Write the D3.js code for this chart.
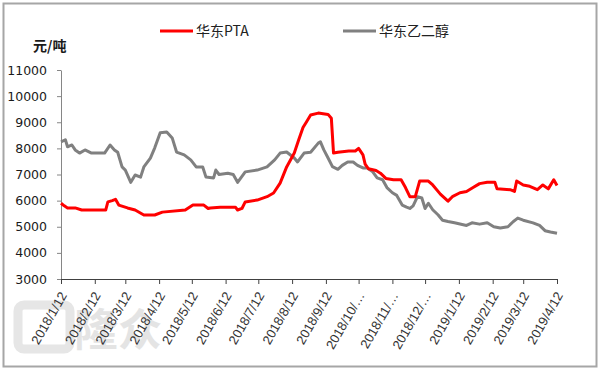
<!DOCTYPE html>
<html>
<head>
  <meta charset="utf-8">
  <title>华东PTA 与 华东乙二醇 价格</title>
  <script src="https://d3js.org/d3.v7.min.js"></script>
  <style>
    body { margin: 0; background: #fff; }
    svg { display: block; }
  </style>
</head>
<body>
<svg class="chart"></svg>
<script>

// series names and the tick labels on the x axis
const seriesNames = ["华东PTA", "华东乙二醇"];
const tickLabels = ["2018/1/12", "2018/2/12", "2018/3/12", "2018/4/12", "2018/5/12", "2018/6/12",
  "2018/7/12", "2018/8/12", "2018/9/12", "2018/10/…", "2018/11/…", "2018/12/…",
  "2019/1/12", "2019/2/12", "2019/3/12", "2019/4/12"];
const tickDates = ["2018-01-12", "2018-02-12", "2018-03-12", "2018-04-12", "2018-05-12", "2018-06-12",
  "2018-07-12", "2018-08-12", "2018-09-12", "2018-10-12", "2018-11-12", "2018-12-12",
  "2019-01-12", "2019-02-12", "2019-03-12", "2019-04-12"];
const yTicks = [3000, 4000, 5000, 6000, 7000, 8000, 9000, 10000, 11000];

// 华东PTA (元/吨)
const ptaDates = ["2018-01-12", "2018-01-15", "2018-01-18", "2018-01-25", "2018-01-31", "2018-02-22",
  "2018-02-24", "2018-02-28", "2018-03-03", "2018-03-06", "2018-03-14", "2018-03-21", "2018-03-29",
  "2018-04-08", "2018-04-15", "2018-05-06", "2018-05-13", "2018-05-23", "2018-05-27", "2018-05-29",
  "2018-06-07", "2018-06-21", "2018-06-23", "2018-06-27", "2018-06-30", "2018-07-11", "2018-07-20",
  "2018-07-26", "2018-08-01", "2018-08-07", "2018-08-14", "2018-08-18", "2018-08-22", "2018-08-25",
  "2018-08-29", "2018-09-05", "2018-09-14", "2018-09-17", "2018-09-19", "2018-09-23", "2018-10-03",
  "2018-10-09", "2018-10-12", "2018-10-16", "2018-10-18", "2018-10-21", "2018-10-28", "2018-11-01",
  "2018-11-06", "2018-11-13", "2018-11-20", "2018-11-24", "2018-11-28", "2018-12-03", "2018-12-07",
  "2018-12-15", "2018-12-19", "2018-12-26", "2019-01-02", "2019-01-06", "2019-01-13", "2019-01-19",
  "2019-01-25", "2019-01-31", "2019-02-07", "2019-02-14", "2019-02-16", "2019-02-28", "2019-03-04",
  "2019-03-06", "2019-03-12", "2019-03-18", "2019-03-25", "2019-03-30", "2019-04-04", "2019-04-09",
  "2019-04-12"];
const ptaValues = [5900, 5800, 5720, 5720, 5640, 5640,
  5950, 6000, 6050, 5830, 5720, 5640, 5450,
  5450, 5560, 5640, 5830, 5830, 5700, 5720,
  5750, 5750, 5640, 5700, 5950, 6020, 6150,
  6290, 6670, 7290, 7820, 8320, 8800, 9000,
  9280, 9350, 9300, 9150, 7820, 7850, 7900,
  7900, 8000, 7750, 7400, 7220, 7150, 7050,
  6850, 6800, 6800, 6500, 6150, 6150, 6750,
  6750, 6600, 6250, 5980, 6150, 6300, 6350,
  6500, 6650, 6700, 6700, 6450, 6420, 6350,
  6750, 6600, 6550, 6420, 6600, 6450, 6800,
  6580];

// 华东乙二醇 (元/吨)
const megDates = ["2018-01-12", "2018-01-16", "2018-01-18", "2018-01-22", "2018-01-25", "2018-01-29",
  "2018-02-03", "2018-02-09", "2018-02-21", "2018-02-26", "2018-03-02", "2018-03-05", "2018-03-09",
  "2018-03-12", "2018-03-17", "2018-03-21", "2018-03-26", "2018-03-29", "2018-04-04", "2018-04-08",
  "2018-04-13", "2018-04-19", "2018-04-24", "2018-04-28", "2018-05-05", "2018-05-11", "2018-05-16",
  "2018-05-22", "2018-05-25", "2018-06-01", "2018-06-03", "2018-06-06", "2018-06-14", "2018-06-19",
  "2018-06-23", "2018-06-30", "2018-07-11", "2018-07-20", "2018-07-27", "2018-08-01", "2018-08-07",
  "2018-08-14", "2018-08-17", "2018-08-23", "2018-08-29", "2018-09-05", "2018-09-07", "2018-09-10",
  "2018-09-14", "2018-09-18", "2018-09-23", "2018-09-27", "2018-10-02", "2018-10-07", "2018-10-11",
  "2018-10-16", "2018-10-20", "2018-10-25", "2018-10-29", "2018-11-03", "2018-11-07", "2018-11-12",
  "2018-11-16", "2018-11-21", "2018-11-25", "2018-11-28", "2018-12-01", "2018-12-05", "2018-12-09",
  "2018-12-12", "2018-12-15", "2018-12-19", "2018-12-24", "2018-12-28", "2019-01-02", "2019-01-08",
  "2019-01-19", "2019-01-24", "2019-01-31", "2019-02-07", "2019-02-13", "2019-02-19", "2019-02-26",
  "2019-03-03", "2019-03-07", "2019-03-12", "2019-03-21", "2019-03-27", "2019-04-01", "2019-04-06",
  "2019-04-12"];
const megValues = [8250, 8330, 8060, 8130, 7940, 7820,
  7940, 7820, 7820, 8130, 7940, 7850, 7290,
  7170, 6700, 6980, 6900, 7290, 7630, 8020,
  8600, 8630, 8400, 7860, 7750, 7560, 7290,
  7290, 6900, 6870, 7170, 7000, 7050, 7000,
  6700, 7100, 7170, 7290, 7560, 7820, 7860,
  7630, 7480, 7820, 7850, 8200, 8250, 7950,
  7630, 7300, 7200, 7350, 7480, 7480, 7350,
  7250, 7250, 7100, 6870, 6800, 6500, 6300,
  6200, 5830, 5750, 5700, 5800, 6150, 6100,
  5700, 5900, 5650, 5450, 5250, 5200, 5150,
  5050, 5150, 5100, 5150, 5000, 4950, 5000,
  5200, 5330, 5250, 5150, 5050, 4850, 4800,
  4750];

const colors = ["#ff0000", "#808080"];

const W = 600, H = 371;
const margin = {top: 70, right: 43, bottom: 92, left: 61};
const width = W - margin.left - margin.right,
  height = H - margin.top - margin.bottom;

const parse = d3.timeParse("%Y-%m-%d");
const pta = ptaDates.map((d, i) => ({date: parse(d), value: ptaValues[i]}));
const meg = megDates.map((d, i) => ({date: parse(d), value: megValues[i]}));

const svg = d3.select(".chart")
  .attr("width", W)
  .attr("height", H);

// outer frame
svg.append("rect")
  .attr("x", 3.5).attr("y", 3.5)
  .attr("width", 593).attr("height", 363)
  .attr("fill", "#fff")
  .attr("stroke", "#a6a6a6")
  .attr("stroke-width", 2);

// faint watermark (logo in the reference)
svg.append("rect")
  .attr("x", 18).attr("y", 305)
  .attr("width", 52).attr("height", 44)
  .attr("rx", 6)
  .attr("fill", "none")
  .attr("stroke", "#e6e6e6")
  .attr("stroke-width", 9);
svg.append("text")
  .attr("x", 74).attr("y", 346)
  .attr("fill", "#e4e4e4")
  .style("font-family", "'Noto Sans CJK SC'")
  .style("font-weight", "bold")
  .style("font-size", "44px")
  .text("隆众");

const chart = svg.append("g")
  .attr("transform", `translate(${margin.left}, ${margin.top})`);

const x = d3.scaleTime()
  .domain([parse(tickDates[0]), parse(tickDates[tickDates.length - 1])])
  .range([0, 496]);

const y = d3.scaleLinear()
  .domain([3000, 11000])
  .range([height, 0]);

// y axis
const yAxis = chart.append("g")
  .call(d3.axisLeft(y).tickValues(yTicks).tickSize(4).tickPadding(10).tickSizeOuter(0)
    .tickFormat(d3.format("d")));
yAxis.select(".domain").attr("stroke", "#868686");
yAxis.selectAll(".tick line").attr("stroke", "#868686");
yAxis.selectAll("text")
  .attr("fill", "#1a1a1a")
  .style("font-family", "'DejaVu Sans'")
  .style("font-size", "12.5px");

// x axis
const xAxis = chart.append("g")
  .attr("transform", `translate(0, ${height})`)
  .call(d3.axisBottom(x).tickValues(tickDates.map(parse)).tickSize(5).tickSizeOuter(0)
    .tickFormat((d, i) => tickLabels[i]));
xAxis.select(".domain").attr("stroke", "#404040");
xAxis.selectAll(".tick line").attr("stroke", "#404040");
xAxis.selectAll("text")
  .attr("fill", "#333")
  .style("font-family", "'Liberation Sans'")
  .style("font-size", "13px")
  .attr("text-anchor", "end")
  .attr("transform", "translate(2, 14) rotate(-60)")
  .attr("x", 0).attr("y", 0).attr("dy", "0.35em");

// lines
const line = d3.line()
  .x(d => x(d.date))
  .y(d => y(d.value));

[meg, pta].forEach((s, k) => {
  chart.append("path")
    .datum(s)
    .attr("fill", "none")
    .attr("stroke", k === 0 ? colors[1] : colors[0])
    .attr("stroke-width", 3)
    .attr("stroke-linejoin", "round")
    .attr("d", line);
});

// unit label
svg.append("text")
  .attr("x", 33).attr("y", 51)
  .attr("fill", "#1a1a1a")
  .style("font-family", "'Noto Sans CJK SC'")
  .style("font-size", "14px")
  .style("font-weight", "bold")
  .text("元/吨");

// legend
const legendX = [160, 343];
seriesNames.forEach((name, i) => {
  const g = svg.append("g").attr("transform", `translate(${legendX[i]}, 31)`);
  g.append("line")
    .attr("x1", 0).attr("x2", 33)
    .attr("stroke", colors[i])
    .attr("stroke-width", 3);
  g.append("text")
    .attr("x", 36).attr("dy", "0.35em")
    .attr("fill", "#222")
    .style("font-family", "'Noto Sans CJK SC'")
    .style("font-size", "14px")
    .text(name);
});

</script>
</body>
</html>
